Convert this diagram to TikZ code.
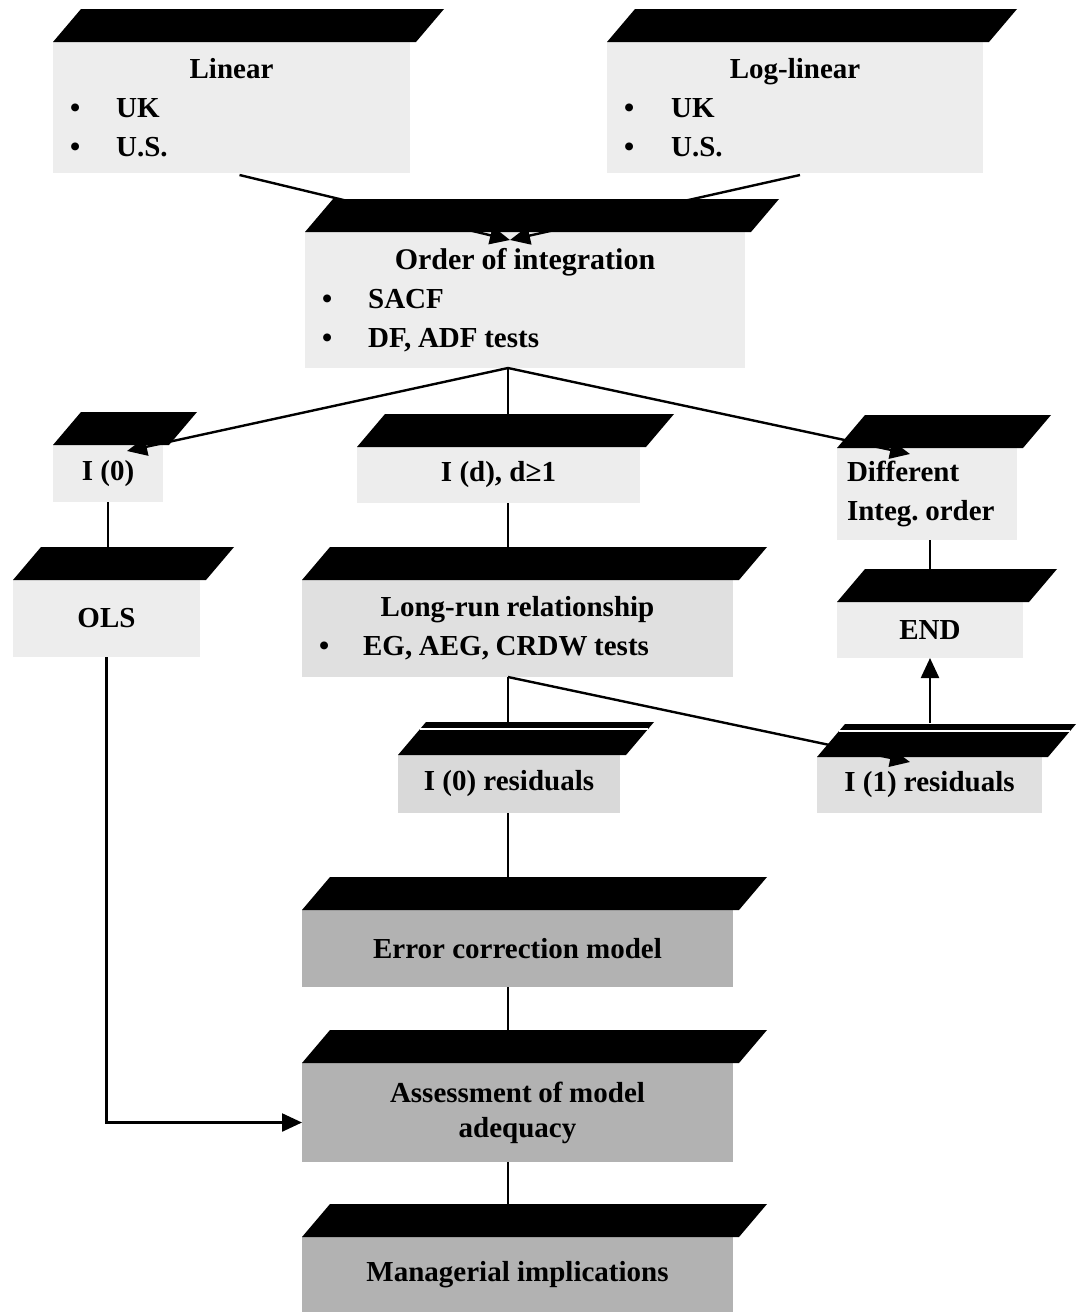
\documentclass[tikz,border=0pt]{standalone}
\usepackage{fontspec}
\setmainfont{Liberation Serif}
\usetikzlibrary{calc,arrows.meta}
\tikzset{
  cubeface/.style={anchor=north west, inner xsep=17pt, inner ysep=0pt, outer sep=0pt,
    font=\fontsize{29}{39}\selectfont\bfseries\frenchspacing, text=black, fill=#1},
  cubeface/.default=black!7,
  conn/.style={draw=black, line width=2.4pt},
  arrowend/.style={-{Triangle[length=20pt,width=18pt]}},
  crease/.style={draw=white, line width=1.6pt},
}
\newcommand\cubetop[1]{\fill[black] (#1.north west) -- ++(28,-33) -- ($(#1.north east)+(34,-33)$) -- ($(#1.north east)+(6,0)$) -- cycle;}
\newcommand\tightsp{\spaceskip=0.23em\xspaceskip=0.23em\relax}
\newcommand\ctr[1]{\makebox[\linewidth][c]{\tightsp #1}}
\newcommand\itm[2][36pt]{\makebox[\linewidth][l]{\tightsp •\hspace{#1}#2}}
\begin{document}
\begin{tikzpicture}[x=1pt,y=-1pt]
\fill[white] (0,0) rectangle (1078,1312);
\useasboundingbox (0,0) rectangle (1078,1312);

% front faces
\node[cubeface, minimum width=357pt, minimum height=131pt, text width=323pt, align=center] (lin) at (53,42)
  {\ctr{Linear}\\ \itm{UK}\\ \itm{U.S.}};
\node[cubeface, minimum width=376pt, minimum height=131pt, text width=342pt, align=center] (log) at (607,42)
  {\ctr{Log-linear}\\ \itm[37pt]{UK}\\ \itm[37pt]{U.S.}};
\node[cubeface, minimum width=440pt, minimum height=136pt, text width=406pt, align=center] (ord) at (305,232)
  {\ctr{\fontsize{30}{39}\selectfont\tightsp Order of integration}\\ \itm{SACF}\\ \itm{DF, ADF tests}};
\node[cubeface, minimum width=110pt, minimum height=57pt, inner xsep=4pt] (i0) at (53,445) {I (0)};
\node[cubeface, minimum width=283pt, minimum height=56pt] (id) at (357,447) {I (d), d≥1};
\node[cubeface, minimum width=180pt, minimum height=92pt, inner xsep=10pt, text width=160pt, align=center] (diff) at (837,448)
  {\makebox[\linewidth][l]{Different}\\ \makebox[\linewidth][l]{\tightsp Integ. order}};
\node[cubeface, minimum width=187pt, minimum height=77pt] (ols) at (13,580) {OLS};
\node[cubeface=black!12, minimum width=431pt, minimum height=97pt, text width=397pt, align=center] (lr) at (302,580)
  {\ctr{Long-run relationship}\\ \itm[34pt]{EG, AEG, CRDW tests}};
\node[cubeface, minimum width=186pt, minimum height=56pt] (endb) at (837,602) {END};
\node[cubeface=black!15, minimum width=222pt, minimum height=58pt, inner xsep=4pt] (i0r) at (398,755) {I (0) residuals};
\node[cubeface=black!12, minimum width=225pt, minimum height=56pt, inner xsep=4pt] (i1r) at (817,757) {I (1) residuals};
\node[cubeface=black!30, minimum width=431pt, minimum height=77pt] (ecm) at (302,910) {Error correction model};
\node[cubeface=black!30, minimum width=431pt, minimum height=99pt, align=center, font=\fontsize{29}{35}\selectfont\bfseries] (ass) at (302,1063)
  {\tightsp Assessment of model\\adequacy};
\node[cubeface=black!30, minimum width=431pt, minimum height=75pt] (man) at (302,1237) {Managerial implications};

% top faces
\cubetop{lin}\cubetop{log}\cubetop{ord}
\cubetop{i0}\cubetop{id}\cubetop{diff}
\cubetop{ols}\cubetop{lr}\cubetop{endb}
\cubetop{i0r}\cubetop{i1r}
\cubetop{ecm}\cubetop{ass}\cubetop{man}
\draw[crease] ($(i0r.north west)+(22,-26)$) -- ($(i0r.north east)+(28,-26)$);
\draw[crease] ($(i1r.north west)+(22,-26)$) -- ($(i1r.north east)+(28,-26)$);

% connection points
\coordinate (ordout) at ($(ord.south)+(-17,0)$);
\coordinate (lrout) at ($(lr.south)+(-9.5,0)$);

% connectors
\draw[conn, arrowend] ($(lin.south)+(8,2)$) -- ($(ord.north)+(-15,8)$);
\draw[conn, arrowend] ($(log.south)+(5,2)$) -- ($(ord.north)+(-15,8)$);
\draw[conn, arrowend] (ordout) -- ($(i0.north)+(19,6)$);
\draw[conn] (ordout) -- ($(id.north)+(9.5,-33)$);
\draw[conn, arrowend] (ordout) -- ($(diff.north)+(-17,6)$);
\draw[conn] (i0.south) -- ($(ols.north)+(1.5,-33)$);
\draw[conn] ($(id.south)+(9.5,0)$) -- ($(lr.north)+(-9.5,-33)$);
\draw[conn] ($(diff.south)+(3,0)$) -- ($(endb.north)+(0,-33)$);
\draw[conn, arrowend] ($(i1r.north)+(0.5,-34)$) -- (endb.south);
\draw[conn] (lrout) -- ($(i0r.north)+(-1,-33)$);
\draw[conn, arrowend] (lrout) -- ($(i1r.north)+(-19.5,5)$);
\draw[conn] ($(i0r.south)+(-1,0)$) -- ($(ecm.north)+(-9.5,-33)$);
\draw[conn] ($(ecm.south)+(-9.5,0)$) -- ($(ass.north)+(-9.5,-33)$);
\draw[conn] ($(ass.south)+(-9.5,0)$) -- ($(man.north)+(-9.5,-33)$);
\draw[conn, arrowend] (ols.south) |- ($(ass.west)+(0,10)$);
\end{tikzpicture}
\end{document}
